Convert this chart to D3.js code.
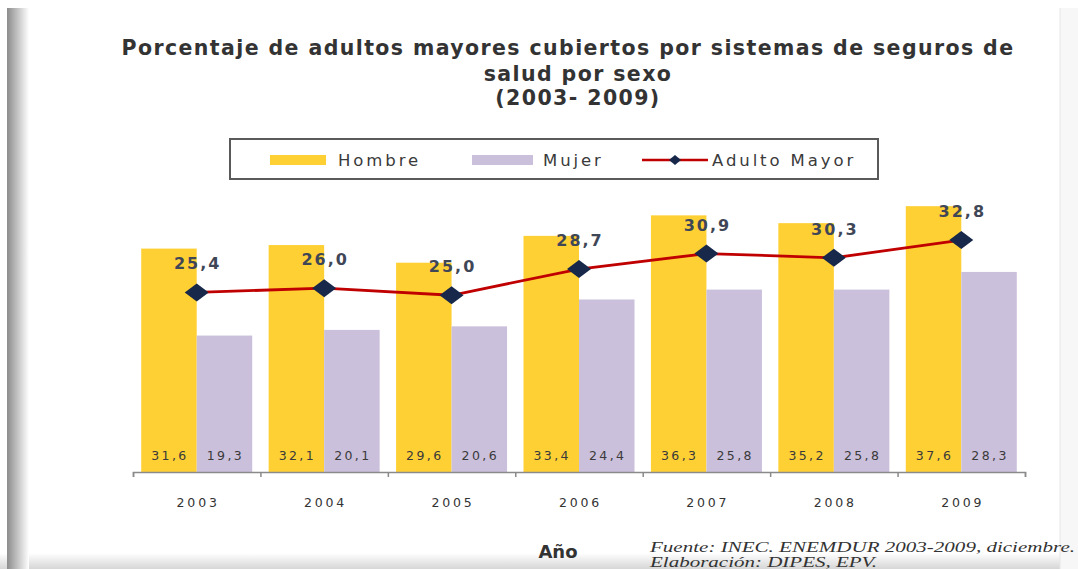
<!DOCTYPE html>
<html>
<head>
<meta charset="utf-8">
<script src="https://cdn.jsdelivr.net/npm/d3@7"></script>
<style>
  body { margin: 0; background: #fff; }
  svg { display: block; }
</style>
</head>
<body>
<div class="chart"></div>
<script>
var width = 1078
  , height = 569
  ;

var years = ["2003", "2004", "2005", "2006", "2007", "2008", "2009"];
var hombre = [31.6, 32.1, 29.6, 33.4, 36.3, 35.2, 37.6];
var mujer = [19.3, 20.1, 20.6, 24.4, 25.8, 25.8, 28.3];
var adultoMayor = [25.4, 26.0, 25.0, 28.7, 30.9, 30.3, 32.8];
var seriesNames = ["Hombre", "Mujer", "Adulto Mayor"];
var titleLines = [
  "Porcentaje de adultos mayores cubiertos por sistemas de seguros de",
  "salud por sexo",
  "(2003- 2009)"
];
var sourceLines = [
  "Fuente: INEC. ENEMDUR 2003-2009, diciembre.",
  "Elaboración: DIPES, EPV."
];

var yellow = "#ffd034"
  , lilac = "#cbc0dc"
  , red = "#c00000"
  , navy = "#17284a"
  ;

var svg = d3.select(".chart").append("svg")
  .attr("width", width)
  .attr("height", height);

// page shading round the slide
var defs = svg.append("defs");
var lg = defs.append("linearGradient").attr("id", "leftShade");
lg.append("stop").attr("offset", "0%").attr("stop-color", "#8c8c8c");
lg.append("stop").attr("offset", "100%").attr("stop-color", "#ffffff");
var bg = defs.append("linearGradient").attr("id", "bottomShade")
  .attr("x1", 0).attr("y1", 0).attr("x2", 0).attr("y2", 1);
bg.append("stop").attr("offset", "0%").attr("stop-color", "#ffffff");
bg.append("stop").attr("offset", "100%").attr("stop-color", "#d6d6d6");

svg.append("rect").attr("x", 0).attr("y", 553).attr("width", width).attr("height", 16)
  .attr("fill", "url(#bottomShade)");
svg.append("rect").attr("x", 1060).attr("y", 8).attr("width", 18).attr("height", 561)
  .attr("fill", "#f7f7f7");
svg.append("line").attr("x1", 1060).attr("x2", 1060).attr("y1", 8).attr("y2", 569)
  .attr("stroke", "#e6e6e6");
svg.append("rect").attr("x", 7).attr("y", 8).attr("width", 22).attr("height", 561)
  .attr("fill", "url(#leftShade)");

// title
svg.selectAll(".title")
  .data(titleLines)
  .enter().append("text")
  .attr("class", "title")
  .attr("x", function(d, i) { return i === 0 ? 568 : 578; })
  .attr("y", function(d, i) { return [55, 81, 105][i]; })
  .attr("text-anchor", "middle")
  .attr("font-family", "DejaVu Sans, Verdana, sans-serif")
  .attr("font-weight", "bold")
  .attr("font-size", 20.5)
  .attr("fill", "#333")
  .attr("letter-spacing", 1.4)
  .text(function(d) { return d; });

// scales
var x = d3.scaleBand().domain(years).range([133, 1025]).paddingInner(0).paddingOuter(0);
var xs = d3.scaleBand().domain(["h", "m"]).range([0, x.bandwidth()]).paddingOuter(0.148);
var y = d3.scaleLinear().domain([0, 40]).range([472, 472 - 40 * 7.07]);

var fmt = function(v) { return d3.format(".1f")(v).replace(".", ","); };

var rows = years.map(function(yr, i) {
  return { year: yr, h: hombre[i], m: mujer[i], a: adultoMayor[i] };
});

// bars
var grp = svg.selectAll(".yr")
  .data(rows)
  .enter().append("g")
  .attr("class", "yr")
  .attr("transform", function(d) { return "translate(" + x(d.year) + ",0)"; });

grp.append("rect")
  .attr("x", xs("h")).attr("width", xs.bandwidth())
  .attr("y", function(d) { return y(d.h); })
  .attr("height", function(d) { return y(0) - y(d.h); })
  .attr("fill", yellow);
grp.append("rect")
  .attr("x", xs("m")).attr("width", xs.bandwidth())
  .attr("y", function(d) { return y(d.m); })
  .attr("height", function(d) { return y(0) - y(d.m); })
  .attr("fill", lilac);

function barLabel(key) {
  grp.append("text")
    .attr("x", xs(key) + xs.bandwidth() / 2 + 1)
    .attr("y", 460)
    .attr("text-anchor", "middle")
    .attr("font-family", "DejaVu Sans, Verdana, sans-serif")
    .attr("font-size", 12.5)
    .attr("letter-spacing", 2.4)
    .attr("fill", "#3a3a3a")
    .text(function(d) { return fmt(d[key]); });
}
barLabel("h");
barLabel("m");

// axis: boundary ticks and year labels
var bounds = d3.scaleLinear().domain([0, years.length]).range(x.range());
var axisG = svg.append("g")
  .attr("transform", "translate(0," + y(0) + ")")
  .call(d3.axisBottom(bounds).ticks(years.length).tickFormat("").tickSize(5).tickSizeOuter(5));
axisG.selectAll("path, line").attr("stroke", "#8a8a8a").attr("stroke-width", 1.5);

var yearAxis = svg.append("g")
  .attr("transform", "translate(0," + y(0) + ")")
  .call(d3.axisBottom(x).tickSize(0).tickPadding(26));
yearAxis.select(".domain").remove();
yearAxis.selectAll("text")
  .attr("font-family", "DejaVu Sans, Verdana, sans-serif")
  .attr("font-size", 12.5)
  .attr("letter-spacing", 2.8)
  .attr("dx", 1.4)
  .attr("fill", "#333");

// line series
var cx = function(d) { return x(d.year) + x.bandwidth() / 2; };
var line = d3.line().x(cx).y(function(d) { return y(d.a); });

svg.append("path")
  .datum(rows)
  .attr("d", line)
  .attr("fill", "none")
  .attr("stroke", red)
  .attr("stroke-width", 2.8);

var diamond = "M0,-9L12,0L0,9L-12,0Z";
svg.selectAll(".mk")
  .data(rows)
  .enter().append("path")
  .attr("class", "mk")
  .attr("d", diamond)
  .attr("fill", navy)
  .attr("transform", function(d) { return "translate(" + cx(d) + "," + y(d.a) + ")"; });

svg.selectAll(".alab")
  .data(rows)
  .enter().append("text")
  .attr("class", "alab")
  .attr("x", function(d) { return cx(d) + 1; })
  .attr("y", function(d) { return y(d.a) - 23; })
  .attr("text-anchor", "middle")
  .attr("font-family", "DejaVu Sans, Verdana, sans-serif")
  .attr("font-weight", "bold")
  .attr("font-size", 16)
  .attr("letter-spacing", 2)
  .attr("fill", "#3f4757")
  .text(function(d) { return fmt(d.a); });

// legend
var leg = svg.append("g");
leg.append("rect")
  .attr("x", 230).attr("y", 139).attr("width", 648).attr("height", 40)
  .attr("fill", "#fff").attr("stroke", "#5a5a5a").attr("stroke-width", 2);

var legendItems = [
  { name: seriesNames[0], kind: "bar", color: yellow, x0: 270, x1: 326, tx: 338 },
  { name: seriesNames[1], kind: "bar", color: lilac, x0: 472, x1: 533, tx: 543 },
  { name: seriesNames[2], kind: "line", color: red, x0: 642, x1: 708, tx: 712 }
];
legendItems.forEach(function(it) {
  if (it.kind === "bar") {
    leg.append("rect")
      .attr("x", it.x0).attr("y", 155).attr("width", it.x1 - it.x0).attr("height", 10)
      .attr("fill", it.color);
  } else {
    leg.append("line")
      .attr("x1", it.x0).attr("x2", it.x1).attr("y1", 160).attr("y2", 160)
      .attr("stroke", it.color).attr("stroke-width", 2.6);
    leg.append("path")
      .attr("d", "M0,-5L6,0L0,5L-6,0Z")
      .attr("fill", navy)
      .attr("transform", "translate(" + (it.x0 + it.x1) / 2 + ",160)");
  }
  leg.append("text")
    .attr("x", it.tx).attr("y", 166)
    .attr("font-family", "DejaVu Sans, Verdana, sans-serif")
    .attr("font-size", 16.5)
    .attr("letter-spacing", 2.9)
    .attr("fill", "#3a3a3a")
    .text(it.name);
});

// axis title and source
svg.append("text")
  .attr("x", 558).attr("y", 558)
  .attr("text-anchor", "middle")
  .attr("font-family", "DejaVu Sans, Verdana, sans-serif")
  .attr("font-weight", "bold")
  .attr("font-size", 18)
  .attr("fill", "#333")
  .text("Año");

svg.selectAll(".src")
  .data(sourceLines)
  .enter().append("text")
  .attr("class", "src")
  .attr("x", 650)
  .attr("y", function(d, i) { return 552 + i * 15; })
  .attr("font-family", "Liberation Serif, Times New Roman, serif")
  .attr("font-style", "italic")
  .attr("font-size", 15)
  .attr("fill", "#333")
  .attr("textLength", function(d, i) { return i === 0 ? 425 : 227; })
  .attr("lengthAdjust", "spacingAndGlyphs")
  .text(function(d) { return d; });
</script>
</body>
</html>
